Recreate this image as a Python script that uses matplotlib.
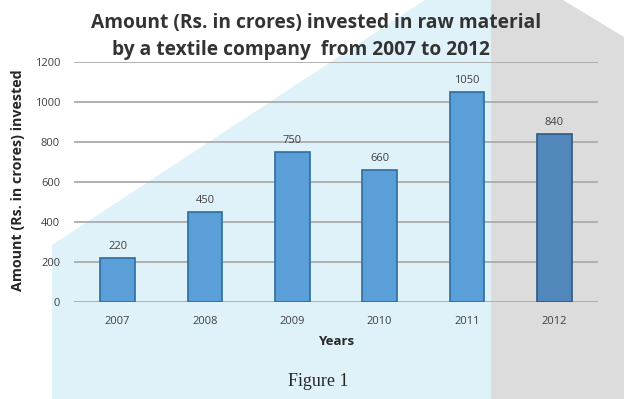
import matplotlib
matplotlib.use("Agg")
import matplotlib.pyplot as plt
from matplotlib.patches import Polygon

years = ["2007", "2008", "2009", "2010", "2011", "2012"]
amounts = [220, 450, 750, 660, 1050, 840]
yticks = [0, 200, 400, 600, 800, 1000, 1200]

W, H = 624, 399
fig = plt.figure(figsize=(W / 100, H / 100), dpi=100)
fig.patch.set_facecolor("white")


def px(pts):
    # pixel coords (top-left origin) -> figure fractions
    return [(x / W, 1 - y / H) for x, y in pts]


blue_bg = Polygon(px([(52, 399), (52, 245), (425, 0), (491, 0), (491, 399)]),
                  closed=True, transform=fig.transFigure, facecolor="#e0f2f9",
                  edgecolor="none", zorder=-2)
gray_bg = Polygon(px([(491, 399), (491, 0), (563, 0), (624, 37), (624, 399)]),
                  closed=True, transform=fig.transFigure, facecolor="#dcdcdc",
                  edgecolor="none", zorder=-2)
fig.patches.extend([blue_bg, gray_bg])

ax = fig.add_axes([74 / W, 1 - 302 / H, (598 - 74) / W, (302 - 62) / H])
ax.set_facecolor("none")

x = list(range(len(years)))
colors = ["#5a9fd7"] * 5 + ["#5187bb"]
edges = ["#2f6c9f"] * 5 + ["#2c5a85"]
bars = ax.bar(x, amounts, width=0.4, color=colors, edgecolor=edges, linewidth=1.2, zorder=3)

for b, v in zip(bars, amounts):
    ax.text(b.get_x() + b.get_width() / 2, v + 28, str(v), ha="center", va="bottom",
            fontsize=8, color="#404040", family="Open Sans", zorder=4)

ax.set_xlim(-0.5, 5.5)
ax.set_ylim(0, 1200)
ax.set_yticks(yticks)
ax.set_xticks(x)
ax.set_xticklabels(years)
ax.grid(axis="y", color="#ababab", linewidth=1.3, zorder=1)
ax.set_axisbelow(True)
ax.tick_params(length=0, labelsize=8, labelcolor="#404040", pad=10)
for lab in ax.get_xticklabels() + ax.get_yticklabels():
    lab.set_family("Open Sans")
for s in ax.spines.values():
    s.set_visible(False)

ax.set_xlabel("Years", fontsize=9.5, fontweight="bold", color="#262626",
              family="Open Sans", labelpad=6)
fig.text(18 / W, 1 - 180 / H, "Amount (Rs. in crores) invested", rotation=90,
         ha="center", va="center", fontsize=10.3, fontweight="bold", color="#262626",
         family="Open Sans")

fig.text(316 / W, 1 - 23 / H, "Amount (Rs. in crores) invested in raw material",
         ha="center", va="center", fontsize=13.8, fontweight="bold", color="#333333",
         family="Open Sans")
fig.text(301 / W, 1 - 50 / H, "by a textile company  from 2007 to 2012",
         ha="center", va="center", fontsize=13.8, fontweight="bold", color="#333333",
         family="Open Sans")

fig.text(318 / W, 1 - 382 / H, "Figure 1", ha="center", va="center", fontsize=13,
         color="#262626", family="Liberation Serif")

fig.savefig("out.png", dpi=100)
